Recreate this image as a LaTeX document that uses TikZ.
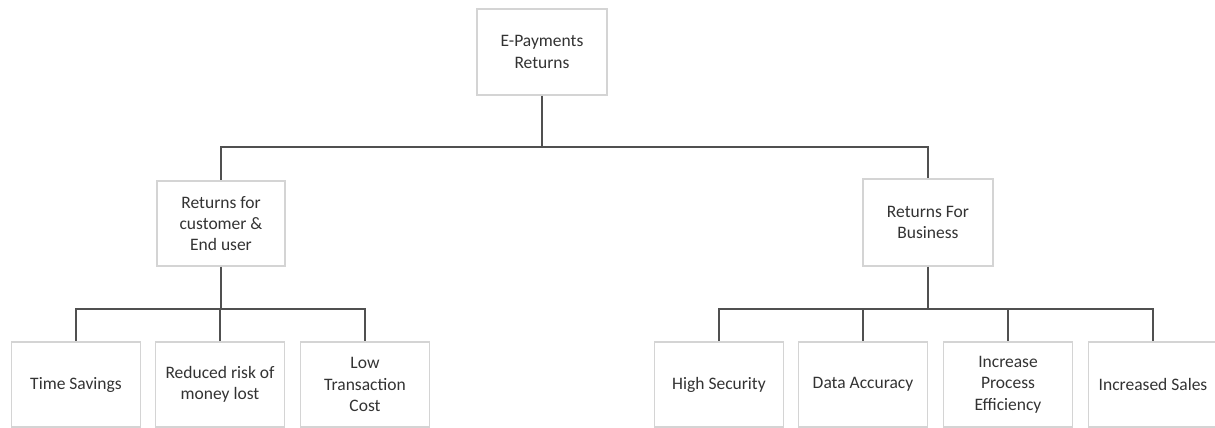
\documentclass[tikz,border=0pt]{standalone}
\usepackage{fontspec}
\setmainfont{Carlito}
\usetikzlibrary{shadows}
\definecolor{boxline}{HTML}{D4D4D4}
\definecolor{wire}{HTML}{505050}
\definecolor{ink}{HTML}{333333}
\begin{document}
\begin{tikzpicture}[x=1pt,y=-1pt,
  box/.style={draw=boxline, line width=1.2pt, fill=white, align=center,
    text=ink, inner sep=2pt,
    font=\fontsize{17.5}{21.3}\selectfont,
    drop shadow={shadow xshift=0.6pt, shadow yshift=-1.2pt, opacity=0.18, fill=black}},
  wire/.style={draw=wire, line width=1.6pt}]
\useasboundingbox (0,0) rectangle (1215,428);
\fill[white] (0,0) rectangle (1215,428);
\clip (0,0) rectangle (1215,428);

% levels
\node[box, minimum width=130pt, minimum height=86pt] (root) at (542,52) {E-Payments\\Returns};
\node[box, minimum width=128pt, minimum height=85pt] (cust) at (221,223.5) {Returns for\\customer \&\\End user};
\node[box, minimum width=130pt, minimum height=87pt] (bus) at (928,222.5) {Returns For\\Business};

\tikzset{leaf/.style={box, minimum width=129pt, minimum height=85pt}}
\node[leaf] (time) at (76,384.5) {Time Savings};
\node[leaf] (risk) at (220,384.5) {Reduced risk of\\money lost};
\node[leaf] (cost) at (365,384.5) {Low\\Transaction\\Cost};
\node[leaf] (sec) at (719,384.5) {High Security};
\node[leaf] (data) at (863,384.5) {Data Accuracy};
\node[leaf] (eff) at (1008,384.5) {Increase\\Process\\Efficiency};
\node[leaf] (sales) at (1153,384.5) {Increased Sales};

% bus-bar levels
\coordinate (barA) at (0,147);
\coordinate (barB) at (0,309);

\draw[wire] (root.south) -- (root.south |- barA) -| (cust.north);
\draw[wire] (root.south |- barA) -| (bus.north);

\draw[wire] (cust.south) -- (cust.south |- barB) -| (time.north);
\draw[wire] (cust.south |- barB) -| (risk.north);
\draw[wire] (cust.south |- barB) -| (cost.north);

\draw[wire] (bus.south) -- (bus.south |- barB) -| (sec.north);
\draw[wire] (bus.south |- barB) -| (data.north);
\draw[wire] (bus.south |- barB) -| (eff.north);
\draw[wire] (bus.south |- barB) -| (sales.north);
\end{tikzpicture}
\end{document}
